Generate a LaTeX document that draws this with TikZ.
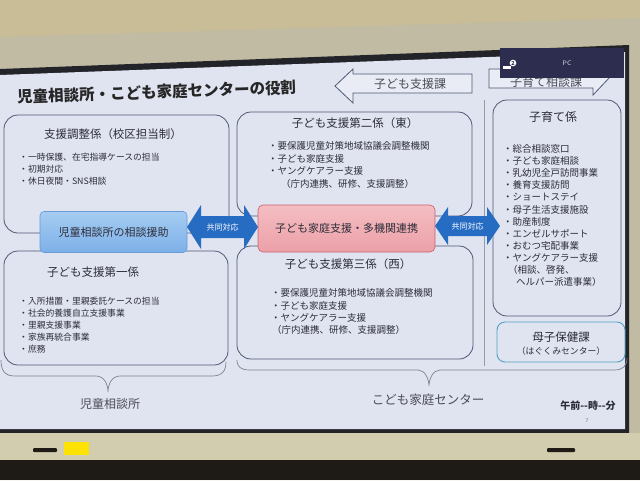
\documentclass[tikz,border=0pt]{standalone}
\usepackage{fontspec}
\setmainfont{Noto Sans CJK JP}
\definecolor{wall}{RGB}{200,189,150}
\definecolor{bezel}{RGB}{192,187,162}
\definecolor{screen}{RGB}{224,228,240}
\definecolor{edge}{RGB}{35,35,42}
\definecolor{boxline}{RGB}{78,88,118}
\definecolor{txt}{RGB}{45,45,58}
\definecolor{arrowblue}{RGB}{38,108,195}
\definecolor{nodebluet}{RGB}{165,205,242}
\definecolor{nodeblueb}{RGB}{125,175,232}
\definecolor{nodebluel}{RGB}{105,155,215}
\definecolor{nodepinkt}{RGB}{244,190,194}
\definecolor{nodepinkb}{RGB}{236,160,168}
\definecolor{nodepinkl}{RGB}{200,95,108}
\definecolor{cyanb}{RGB}{80,160,192}
\definecolor{navy}{RGB}{45,45,80}
\definecolor{bottombezel}{RGB}{210,205,174}
\definecolor{darkbase}{RGB}{30,26,22}
\definecolor{bracec}{RGB}{125,130,148}
\begin{document}
\begin{tikzpicture}[x=1pt,y=-1pt,
  group/.style={draw=boxline, line width=0.8pt, rounded corners=14pt},
  boxtitle/.style={font=\fontsize{11.5}{13}\selectfont, text=txt, inner sep=0},
  itemA/.style={font=\fontsize{8.8}{10}\selectfont, text=txt, anchor=west, inner sep=0},
  itemB/.style={font=\fontsize{9.5}{11}\selectfont, text=txt, anchor=west, inner sep=0},
  dbl/.style={fill=arrowblue},
  dbltext/.style={font=\fontsize{8}{9}\selectfont, text=white, inner sep=0},
  outarrow/.style={draw=boxline, line width=0.8pt, fill=screen!70!white},
  bracestyle/.style={draw=bracec, line width=0.7pt},
  lab/.style={font=\fontsize{12}{14}\selectfont, text=txt!85, inner sep=0}
]
\useasboundingbox (0,0) rectangle (640,480);
% ---- photo frame ----
\fill[wall] (0,0) rectangle (640,480);
\fill[bezel] (0,37) -- (640,18) -- (640,480) -- (0,480) -- cycle;
\fill[edge] (0,69) -- (629,45) -- (629,433) -- (0,433) -- cycle;
\fill[screen] (0,75) -- (625,52) -- (625,429) -- (0,429) -- cycle;
\fill[bottombezel] (0,433) rectangle (640,460);
\fill[darkbase] (0,460) rectangle (640,480);
\fill[darkbase, rounded corners=1pt] (33,448) rectangle (57,452);
\fill[darkbase, rounded corners=1pt] (547,448) rectangle (575,452);
\fill[yellow!85!orange] (64,442) rectangle (89,455);

% ---- title ----
\node[anchor=west, rotate=2, font=\bfseries\fontsize{15.5}{18}\selectfont, text=black!85, inner sep=0] (title) at (17,97) {児童相談所・こども家庭センターの役割};

% ---- top outline arrows ----
\draw[outarrow] (335,86) -- (353,69) -- (353,74) -- (472,74) -- (472,93) -- (353,93) -- (353,103) -- cycle;
\node[lab] (kodomoka) at (410,84) {子ども支援課};
\draw[outarrow] (489,69) -- (593,69) -- (593,60) -- (610,77) -- (593,95) -- (593,88) -- (489,88) -- cycle;
\node[lab] (kosodateka) at (546,82) {子育て相談課};
% PC bar
\fill[navy] (500,48) rectangle (624,78);
\node[font=\fontsize{6.5}{7}\selectfont\sffamily, text=white!85!navy, inner sep=0] (pc) at (567,63) {PC};
\fill[white] (503,66) rectangle (511,69);
\node[circle, fill=white, inner sep=0.5pt, font=\fontsize{5.5}{6}\selectfont\bfseries, text=navy] (icon) at (513,63) {2};

% ---- divider ----
\draw[bracec!80, line width=0.6pt] (484,100) -- (484,366);

% ---- box 1 ----
\draw[group] (4,115) rectangle (229,233);
\node[boxtitle] (b1t) at (113,134) {支援調整係（校区担当制）};
\foreach \t [count=\i] in {・一時保護、在宅指導ケースの担当, ・初期対応, ・休日夜間・SNS相談}
  \node[itemA] (b1i\i) at (19,145+12*\i) {\t};

% ---- box 2 ----
\draw[group] (237,112) rectangle (472,216);
\node[boxtitle] (b2t) at (355,123) {子ども支援第二係（東）};
\foreach \t [count=\i] in {・要保護児童対策地域協議会調整機関, ・子ども家庭支援, ・ヤングケアラー支援}
  \node[itemB] (b2i\i) at (268,133.5+12.5*\i) {\t};
\node[itemB] (b2p) at (281,183.5) {（庁内連携、研修、支援調整）};

% ---- box 3 ----
\draw[group] (4,251) rectangle (228,365);
\node[boxtitle] (b3t) at (93,272) {子ども支援第一係};
\foreach \t [count=\i] in {・入所措置・里親委託ケースの担当, ・社会的養護自立支援事業, ・里親支援事業, ・家族再統合事業, ・庶務}
  \node[itemA] (b3i\i) at (19,289+12*\i) {\t};

% ---- box 4 ----
\draw[group] (237,246) rectangle (473,359);
\node[boxtitle] (b4t) at (348,264) {子ども支援第三係（西）};
\foreach \t [count=\i] in {・要保護児童対策地域協議会調整機関, ・子ども家庭支援, ・ヤングケアラー支援}
  \node[itemB] (b4i\i) at (271,280.5+12.5*\i) {\t};
\node[itemB] (b4p) at (272,330) {（庁内連携、研修、支援調整）};

% ---- box 5 ----
\draw[group] (493,100) rectangle (621,316);
\node[boxtitle, font=\fontsize{12}{14}\selectfont] (b5t) at (553,117) {子育て係};
\foreach \t [count=\i] in {・総合相談窓口, ・子ども家庭相談, ・乳幼児全戸訪問事業, ・養育支援訪問, ・ショートステイ, ・母子生活支援施設, ・助産制度, ・エンゼルサポート, ・おむつ宅配事業, ・ヤングケアラー支援}
  \node[itemB] (b5i\i) at (503,136.9+12.1*\i) {\t};
\node[itemB] (b5p1) at (508,270) {（相談、啓発、};
\node[itemB] (b5p2) at (516,282.1) {ヘルパー派遣事業）};

% ---- box 6 ----
\draw[draw=cyanb, line width=0.9pt, rounded corners=8pt] (497,322) rectangle (625,362);
\node[boxtitle] (b6t) at (561,337) {母子保健課};
\node[boxtitle, font=\fontsize{8.8}{10}\selectfont] (b6s) at (561,351) {（はぐくみセンター）};

% ---- central nodes ----
\node[draw=nodebluel, line width=0.6pt, top color=nodebluet, bottom color=nodeblueb, rounded corners=4pt,
      minimum width=147pt, minimum height=41pt, font=\fontsize{11}{13}\selectfont, text=txt] (soudan) at (113.5,232) {児童相談所の相談援助};
\node[draw=nodepinkl, line width=0.6pt, top color=nodepinkt, bottom color=nodepinkb, rounded corners=5pt,
      minimum width=177pt, minimum height=47pt, font=\fontsize{11}{13}\selectfont, text=txt] (renkei) at (346.5,228.5) {子ども家庭支援・多機関連携};

% ---- double arrows ----
\fill[dbl] (187,227) -- (201,205) -- (201,216) -- (244,216) -- (244,205) -- (258,227) -- (244,249) -- (244,238) -- (201,238) -- (201,249) -- cycle;
\node[dbltext] (k1) at (222.5,227) {共同対応};
\fill[dbl] (435,226) -- (448,207) -- (448,216) -- (487,216) -- (487,207) -- (500,226) -- (487,245) -- (487,236) -- (448,236) -- (448,245) -- cycle;
\node[dbltext] (k2) at (467.5,226) {共同対応};

% ---- braces ----
\draw[bracestyle] (1,360) .. controls (1,371) and (5,376) .. (15,376) -- (96,376)
  .. controls (104,376) and (108,384) .. (108,392) .. controls (108,384) and (112,376) .. (120,376)
  -- (212,376) .. controls (222,376) and (226,371) .. (226,362);
\draw[bracestyle] (237,360) .. controls (237,367) and (241,370) .. (250,370) -- (418,370)
  .. controls (425,370) and (429,379) .. (429,386) .. controls (429,379) and (433,370) .. (440,370)
  -- (614,370) .. controls (623,370) and (627,366) .. (627,358);
\node[lab] (jlab) at (110,404) {児童相談所};
\node[lab, font=\fontsize{12.5}{14}\selectfont] (clab) at (428,400) {こども家庭センター};
\node[font=\bfseries\fontsize{10}{12}\selectfont, text=txt, inner sep=0] (time) at (588,406) {午前-{}-時-{}-分};
\node[font=\fontsize{5}{6}\selectfont, text=txt!70, inner sep=0] (page) at (587,421) {7};
\end{tikzpicture}
\end{document}
